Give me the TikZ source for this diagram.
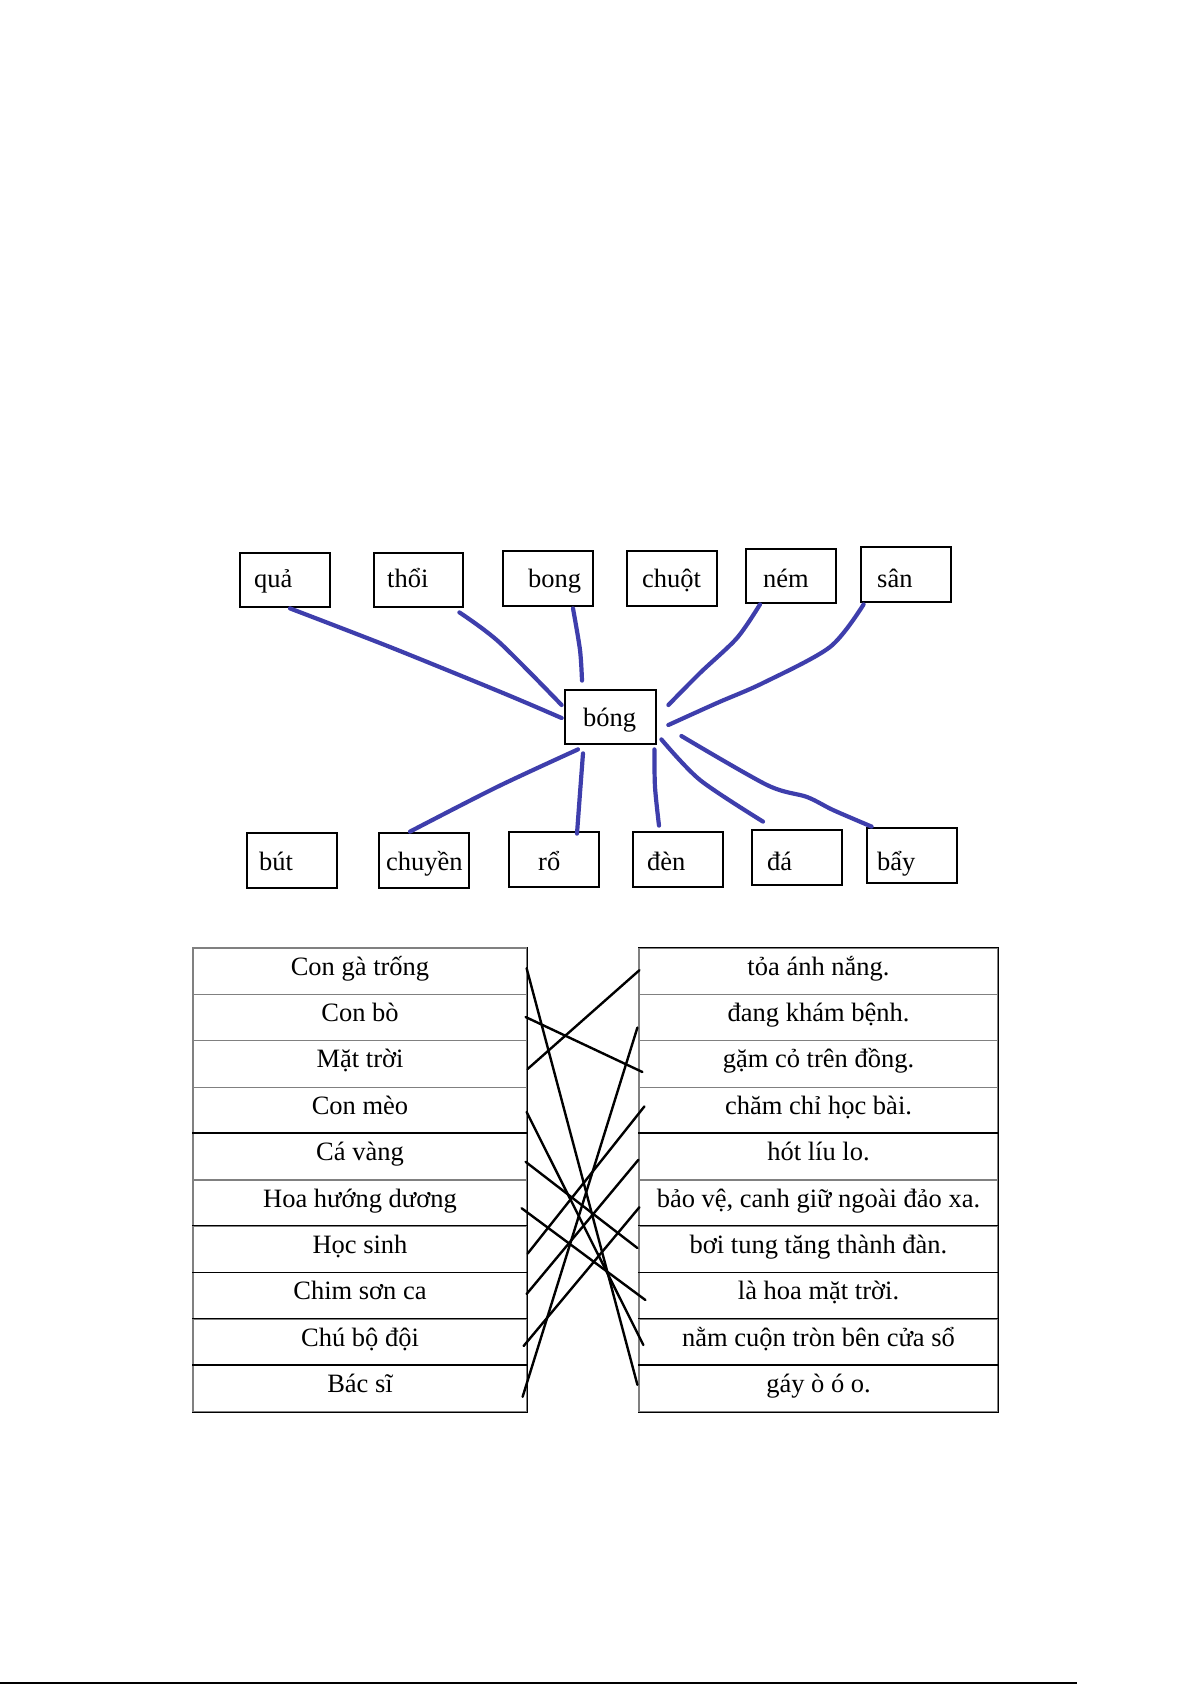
\documentclass[tikz,border=0pt]{standalone}
\usepackage{fontspec}
\setmainfont{Liberation Serif}
\usetikzlibrary{calc}
\definecolor{pen}{RGB}{62,62,172}
\begin{document}
\begin{tikzpicture}[x=1pt,y=-1pt,
  wbox/.style={draw=black, line width=2.8pt, minimum width=90pt, minimum height=54pt, inner sep=0pt},
  word/.style={anchor=base west, inner sep=0pt, font=\fontsize{26.5}{30}\selectfont},
  bl/.style={draw=pen, line width=4.2pt, line cap=round, line join=round},
  cell/.style={draw=black!50, line width=1.2pt, minimum height=46.4pt, inner sep=0pt, text height=17pt, text depth=9.4pt, font=\fontsize{26.5}{30}\selectfont},
  cellL/.style={cell, minimum width=334pt},
  cellR/.style={cell, minimum width=359pt},
  grid/.style={draw=black, line width=1.3pt},
  match/.style={draw=black, line width=2.4pt, line cap=round}
]
\fill[white] (0,0) rectangle (1192,1685);
\useasboundingbox (0,0) rectangle (1192,1685);

% ---------- word boxes ----------
\node[wbox] (qua)    at (285,580)   {};
\node[wbox, minimum width=89pt] (thoi) at (418.5,580) {};
\node[wbox, minimum height=55pt] (bong)   at (548,578.5) {};
\node[wbox, minimum height=55pt] (chuot)  at (672,578.5) {};
\node[wbox] (nem)    at (791,576)   {};
\node[wbox, minimum height=55pt] (san)    at (906,574.5) {};
\node[wbox, minimum width=91pt] (bongc)  at (610.5,717) {};
\node[wbox, minimum height=55pt] (but)    at (292,860.5) {};
\node[wbox, minimum height=55pt] (chuyen) at (424,860.5) {};
\node[wbox, minimum height=55pt] (ro)     at (554,859.5) {};
\node[wbox, minimum height=55pt] (den)    at (678,859.5) {};
\node[wbox, minimum height=55pt] (da)     at (797,857.5) {};
\node[wbox, minimum height=55pt] (bay)    at (912,855.5) {};

\node[word] (tqua)    at (254,587.5) {quả};
\node[word] (tthoi)   at (387,587.5) {thổi};
\node[word] (tbong)   at (528,587.5) {bong};
\node[word] (tchuot)  at (642,587.5) {chuột};
\node[word] (tnem)    at (763,587) {ném};
\node[word] (tsan)    at (877,587) {sân};
\node[word] (tbongc)  at (583,726) {bóng};
\node[word] (tbut)    at (259,870.5) {bút};
\node[word] (tchuyen) at (386,870.5) {chuyền};
\node[word] (tro)     at (538,870) {rổ};
\node[word] (tden)    at (647,870) {đèn};
\node[word] (tda)     at (767,870) {đá};
\node[word] (tbay)    at (877,870) {bẩy};

% ---------- blue connectors ----------
\draw[bl] plot[smooth] coordinates {($(qua.south)+(5,0)$) (390,647) (503,693) ($(bongc.west)+(-2,1)$)};
\draw[bl] plot[smooth] coordinates {($(thoi.south east)+(-5,4)$) (499,642) ($(bongc.west)+(-2,-12)$)};
\draw[bl] plot[smooth] coordinates {($(bong.south)+(25,1)$) (580,650) ($(bongc.north)+(-28.5,-8)$)};
\draw[bl] plot[smooth] coordinates {($(nem.south)+(-31,0)$) (737,638) (700,673) ($(bongc.east)+(11,-12)$)};
\draw[bl] plot[smooth] coordinates {($(san.south west)+(4,1)$) (830,647) (763,683) (717,703) ($(bongc.east)+(11,8)$)};
\draw[bl] plot[smooth] coordinates {($(bongc.south)+(-32.5,4)$) (497,787) ($(chuyen.north)+(-14,0)$)};
\draw[bl] plot[smooth] coordinates {($(bongc.south)+(-27.5,8)$) (580,793) ($(ro.north)+(23,3)$)};
\draw[bl] plot[smooth] coordinates {($(bongc.south east)+(-3,4)$) (655,787) ($(den.north)+(-19,-5)$)};
\draw[bl] plot[smooth] coordinates {($(bongc.south east)+(4,-6)$) (700,780) ($(da.north)+(-34,-7)$)};
\draw[bl] plot[smooth] coordinates {($(bongc.east)+(24,19)$) (767,785) (807,797) (833,810) ($(bay.north west)+(6,0)$)};

% ---------- matching table ----------
\foreach \i/\t in {1/Con gà trống, 2/Con bò, 3/Mặt trời, 4/Con mèo, 5/Cá vàng,
                   6/Hoa hướng dương, 7/Học sinh, 8/Chim sơn ca, 9/Chú bộ đội, 10/Bác sĩ}
  \node[cellL] (L\i) at (360, {948+46.4*(\i-0.5)}) {\t};
\foreach \i/\t in {1/tỏa ánh nắng., 2/đang khám bệnh., 3/gặm cỏ trên đồng., 4/chăm chỉ học bài.,
                   5/hót líu lo., 6/{bảo vệ, canh giữ ngoài đảo xa.}, 7/bơi tung tăng thành đàn.,
                   8/là hoa mặt trời., 9/nằm cuộn tròn bên cửa sổ, 10/gáy ò ó o.}
  \node[cellR] (R\i) at (818.5, {948+46.4*(\i-0.5)}) {\t};

% darker rules
\draw[grid] (L1.north east) -- (L10.south east);
\draw[grid] (R1.north east) -- (R10.south east);
\foreach \i in {5,7,8,9,10} {
  \draw[grid] (L\i.north west) -- (L\i.north east);
  \draw[grid] (R\i.north west) -- (R\i.north east);
}
\draw[grid] (L10.south west) -- (L10.south east);
\draw[grid] (R10.south west) -- (R10.south east);
\draw[grid] (R1.north west) -- (R1.north east);

% ---------- matching lines ----------
\draw[match] ($(L1.east)+(-1,-3)$)  -- ($(R10.west)+(-1,-4)$);
\draw[match] ($(L2.east)+(-2,-0.6)$) -- ($(R3.west)+(4,8)$);
\draw[match] ($(L3.east)+(0,5)$)    -- ($(R1.west)+(1,-1)$);
\draw[match] ($(L4.east)+(-1,1.6)$) -- ($(R9.west)+(5,2.6)$);
\draw[match] ($(L5.east)+(-2,5)$)   -- ($(R7.west)+(-1,-1.6)$);
\draw[match] ($(L6.east)+(-6,5)$)   -- ($(R8.west)+(7,4)$);
\draw[match] ($(L7.east)+(0,4)$)    -- ($(R4.west)+(6,-4)$);
\draw[match] ($(L8.east)+(-1,-2)$)  -- ($(R5.west)+(0,3)$);
\draw[match] ($(L9.east)+(-4,3.6)$) -- ($(R6.west)+(1,4)$);
\draw[match] ($(L10.east)+(-5,8)$)  -- ($(R2.west)+(-1,10)$);

% ---------- page rule ----------
\draw[black, line width=2pt] (0,1683) -- (1077,1683);
\end{tikzpicture}
\end{document}
